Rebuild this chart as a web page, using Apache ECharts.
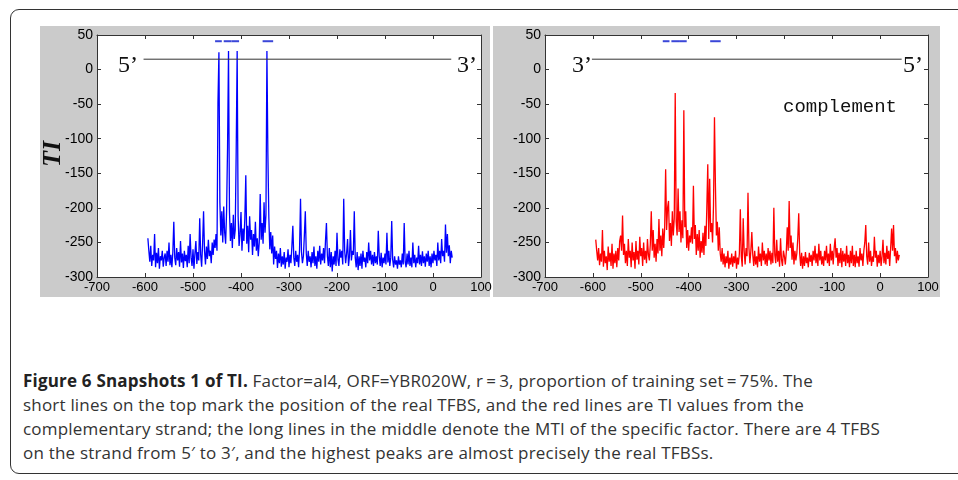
<!DOCTYPE html>
<html>
<head>
<meta charset="utf-8">
<script src="https://cdn.jsdelivr.net/npm/echarts@6/dist/echarts.min.js"></script>
<style>
  html, body { margin: 0; padding: 0; background: #fff; }
  body { width: 958px; height: 480px; position: relative; overflow: hidden; }
  #frame { position: absolute; left: 10px; top: 9px; width: 970px; height: 465px;
           border: 1.5px solid #333; border-radius: 9px; box-sizing: border-box; }
  .panel { position: absolute; top: 26px; height: 271px; background: #cbcbcb; }
  #chart { position: absolute; left: 0; top: 0; width: 958px; height: 310px; }
  #caption { position: absolute; left: 23px; top: 369px; width: 935px;
             font-family: "Open Sans", "Noto Sans", sans-serif; font-size: 17px; letter-spacing: 0.2px;
             line-height: 24px; color: #333; white-space: nowrap; }
  #caption b { color: #222; }
</style>
</head>
<body>
<div id="frame"></div>
<div class="panel" style="left:40px;width:450px"></div>
<div class="panel" style="left:493px;width:447px"></div>
<div id="chart"></div>
<div id="caption">
  <div><b>Figure 6 Snapshots 1 of TI.</b> Factor=al4, ORF=YBR020W, r&#8201;=&#8201;3, proportion of training set&#8201;=&#8201;75%. The</div>
  <div>short lines on the top mark the position of the real TFBS, and the red lines are TI values from the</div>
  <div>complementary strand; the long lines in the middle denote the MTI of the specific factor. There are 4 TFBS</div>
  <div>on the strand from 5&#8242; to 3&#8242;, and the highest peaks are almost precisely the real TFBSs.</div>
</div>
<script>
// positions: first base and spacing of the TI samples
const positionStart = -594;
const positionStep = 2;

// TI on the given strand (blue), one row = 20 bases
const strandTI = [
  -244, -262, -278, -255, -284, -268, -276, -238, -286, -265,
  -280, -258, -288, -270, -276, -262, -285, -272, -266, -284,
  -262, -278, -250, -283, -268, -286, -264, -220, -272, -283,
  -258, -276, -264, -285, -248, -279, -266, -287, -262, -277,
  -268, -286, -255, -280, -238, -272, -284, -260, -288, -266,
  -248, -281, -264, -276, -215, -268, -285, -252, -205, -262,
  -282, -256, -274, -246, -270, -262, -280, -250, -268, -246,
  -258, -238, -262, -48, 25, -192, -240, -205, -250, -198,
  -236, -252, -204, -112, 27, -206, -248, -222, -258, -210,
  -245, -232, -118, 27, -212, -255, -238, -206, -262, -230,
  -248, -215, -153, -252, -226, -264, -212, -246, -232, -268,
  -238, -256, -220, -262, -244, -270, -250, -180, -246, -222,
  -252, -192, -236, -210, 27, -122, -214, -260, -235, -266,
  -240, -282, -256, -274, -262, -287, -266, -280, -258, -285,
  -270, -282, -264, -288, -272, -278, -260, -286, -268, -280,
  -256, -226, -272, -284, -262, -278, -268, -286, -260, -187,
  -264, -280, -270, -240, -205, -266, -284, -262, -278, -270,
  -286, -264, -280, -256, -284, -270, -288, -262, -278, -255,
  -282, -266, -276, -258, -280, -248, -222, -270, -284, -258,
  -286, -264, -292, -270, -282, -262, -284, -236, -275, -284,
  -260, -272, -262, -282, -187, -262, -280, -266, -245, -284,
  -270, -232, -276, -262, -268, -205, -272, -286, -264, -290,
  -270, -284, -266, -288, -262, -278, -272, -286, -264, -280,
  -250, -276, -262, -282, -268, -284, -264, -280, -270, -282,
  -233, -270, -284, -265, -286, -272, -280, -266, -282, -236,
  -279, -262, -284, -272, -219, -275, -286, -270, -282, -276,
  -288, -270, -282, -276, -286, -266, -282, -222, -278, -286,
  -266, -282, -262, -284, -272, -286, -250, -280, -268, -286,
  -272, -280, -255, -282, -268, -284, -263, -280, -270, -285,
  -266, -278, -262, -284, -270, -286, -266, -280, -262, -276,
  -268, -284, -250, -276, -262, -280, -245, -270, -262, -278,
  -224, -265, -238, -270, -254, -280, -262, -272
];

// TI on the complementary strand (red), one row = 20 bases
const complementTI = [
  -246, -262, -276, -258, -283, -266, -278, -232, -285, -262,
  -280, -270, -290, -256, -278, -265, -284, -252, -288, -266,
  -280, -262, -286, -258, -276, -248, -240, -262, -211, -268,
  -252, -280, -262, -284, -245, -272, -262, -286, -250, -276,
  -264, -288, -248, -275, -262, -282, -242, -270, -258, -284,
  -250, -275, -262, -280, -245, -268, -276, -252, -205, -262,
  -232, -272, -252, -278, -245, -266, -216, -262, -240, -270,
  -230, -258, -228, -144, -232, -200, -190, -248, -222, -255,
  -205, -240, -215, -34, -220, -240, -172, -235, -205, -250,
  -218, -244, -59, -228, -205, -258, -232, -262, -240, -250,
  -228, -252, -168, -245, -225, -268, -238, -262, -232, -272,
  -248, -265, -236, -268, -226, -255, -200, -137, -245, -158,
  -235, -222, -250, -196, -69, -168, -240, -220, -262, -228,
  -266, -278, -258, -282, -266, -286, -270, -280, -262, -288,
  -272, -282, -266, -285, -270, -280, -262, -288, -272, -282,
  -266, -202, -270, -285, -215, -262, -282, -258, -270, -178,
  -258, -280, -262, -235, -268, -284, -262, -282, -270, -286,
  -256, -278, -266, -284, -250, -276, -262, -282, -266, -284,
  -258, -276, -262, -282, -265, -280, -200, -268, -280, -246,
  -278, -262, -285, -244, -275, -284, -262, -270, -282, -264,
  -228, -262, -190, -258, -240, -275, -250, -282, -262, -276,
  -266, -244, -208, -266, -284, -265, -288, -270, -284, -264,
  -280, -272, -286, -265, -278, -268, -284, -262, -276, -255,
  -280, -266, -284, -252, -276, -262, -282, -270, -284, -262,
  -276, -255, -280, -266, -284, -252, -276, -262, -282, -258,
  -244, -272, -258, -284, -265, -280, -258, -286, -262, -278,
  -266, -284, -255, -280, -268, -286, -262, -280, -255, -284,
  -268, -286, -262, -280, -270, -285, -258, -276, -266, -284,
  -262, -250, -225, -270, -282, -250, -278, -262, -284, -270,
  -278, -242, -272, -262, -285, -268, -280, -262, -284, -270,
  -246, -280, -265, -282, -255, -274, -262, -284, -258, -230,
  -262, -225, -270, -258, -280, -262, -276, -268
];

// MTI of the factor and where its line spans
const mtiLevel = 15;
const mtiSpanStrand = [-603, 38];
const mtiSpanComplement = [-602, 45];

// real TFBS marks on top
const tfbsLevel = 41;
const tfbsSites = [[-454, -440], [-436, -420], [-420, -404], [-355, -333]];

// axis ranges and steps
const xRange = [-700, 100];
const xStep = 100;
const yRange = [-300, 50];
const yStep = 50;

function toPairs(values) {
  return values.map(function (v, i) { return [positionStart + i * positionStep, v]; });
}

var chart = echarts.init(document.getElementById('chart'), null, { renderer: 'canvas' });

var labelFont = { color: '#000', fontFamily: 'Liberation Sans' };
var frameLine = { show: true, onZero: false, lineStyle: { color: '#333', width: 1 } };
var tickIn = { show: true, inside: true, length: 4, lineStyle: { color: '#333' } };

function xAxes(gridIndex) {
  return [
    { type: 'value', gridIndex: gridIndex, position: 'bottom', min: xRange[0], max: xRange[1], interval: xStep,
      axisLine: frameLine, axisTick: tickIn, splitLine: { show: false },
      axisLabel: Object.assign({ margin: 4, fontSize: 13 }, labelFont) },
    { type: 'value', gridIndex: gridIndex, position: 'top', min: xRange[0], max: xRange[1], interval: xStep,
      axisLine: frameLine, axisTick: tickIn, splitLine: { show: false }, axisLabel: { show: false } }
  ];
}
function yAxes(gridIndex) {
  return [
    { type: 'value', gridIndex: gridIndex, position: 'left', min: yRange[0], max: yRange[1], interval: yStep,
      axisLine: frameLine, axisTick: tickIn, splitLine: { show: false },
      axisLabel: Object.assign({ margin: 4, fontSize: 14 }, labelFont) },
    { type: 'value', gridIndex: gridIndex, position: 'right', min: yRange[0], max: yRange[1], interval: yStep,
      axisLine: frameLine, axisTick: tickIn, splitLine: { show: false }, axisLabel: { show: false } }
  ];
}

function tfbsSeries(xIdx, yIdx) {
  return tfbsSites.map(function (s) {
    return {
      type: 'line', xAxisIndex: xIdx, yAxisIndex: yIdx, showSymbol: false, silent: true,
      lineStyle: { color: '#3a46d8', width: 2 },
      data: [[s[0], tfbsLevel], [s[1], tfbsLevel]]
    };
  });
}

var series = [
  { type: 'line', xAxisIndex: 0, yAxisIndex: 0, showSymbol: false, silent: true,
    lineStyle: { color: '#0000ff', width: 1.3 }, data: toPairs(strandTI) },
  { type: 'line', xAxisIndex: 0, yAxisIndex: 0, showSymbol: false, silent: true,
    lineStyle: { color: '#333', width: 1 },
    data: [[mtiSpanStrand[0], mtiLevel], [mtiSpanStrand[1], mtiLevel]] },
  { type: 'line', xAxisIndex: 2, yAxisIndex: 2, showSymbol: false, silent: true,
    lineStyle: { color: '#ff0000', width: 1.3 }, data: toPairs(complementTI) },
  { type: 'line', xAxisIndex: 2, yAxisIndex: 2, showSymbol: false, silent: true,
    lineStyle: { color: '#333', width: 1 },
    data: [[mtiSpanComplement[0], mtiLevel], [mtiSpanComplement[1], mtiLevel]] }
].concat(tfbsSeries(0, 0), tfbsSeries(2, 2));

var serif = 'Liberation Serif, Times New Roman, serif';
function endText(x, y, s) {
  return { type: 'text', x: x, y: y, z: 10,
    style: { text: s, font: '24px ' + serif, fill: '#111', textAlign: 'center', textVerticalAlign: 'middle' } };
}

chart.setOption({
  animation: false,
  backgroundColor: 'transparent',
  grid: [
    { left: 97, top: 35, width: 384, height: 242, show: true, backgroundColor: '#fff', borderWidth: 0 },
    { left: 545, top: 35, width: 383, height: 242, show: true, backgroundColor: '#fff', borderWidth: 0 }
  ],
  xAxis: xAxes(0).concat(xAxes(1)),
  yAxis: yAxes(0).concat(yAxes(1)),
  series: series,
  graphic: [
    endText(128, 66, '5\u2019'),
    endText(467, 66, '3\u2019'),
    endText(582, 66, '3\u2019'),
    endText(913, 66, '5\u2019'),
    { type: 'text', x: 840, y: 107, z: 10,
      style: { text: 'complement', font: '19px Liberation Mono, DejaVu Sans Mono, monospace', fill: '#111',
               textAlign: 'center', textVerticalAlign: 'middle' } },
    { type: 'text', x: 53, y: 154, rotation: Math.PI / 2, z: 10,
      style: { text: 'TI', font: 'italic bold 26px ' + serif, fill: '#111',
               textAlign: 'center', textVerticalAlign: 'middle' } }
  ]
});
</script>
</body>
</html>
